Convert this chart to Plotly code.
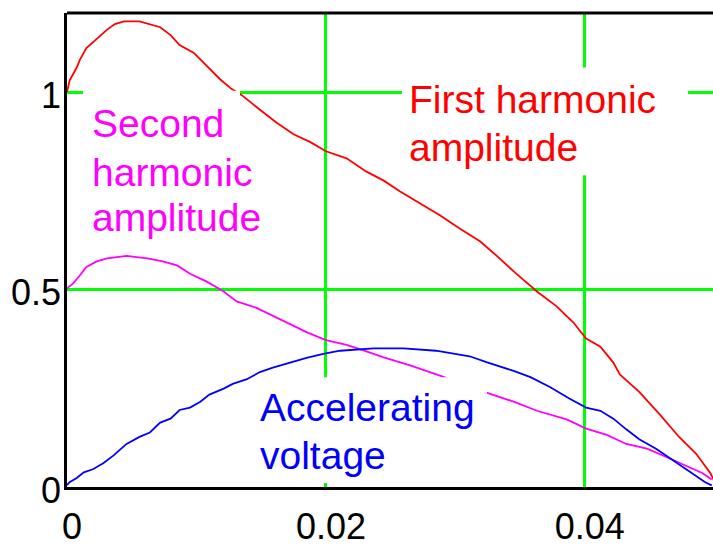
import plotly.graph_objects as go

# ---- data ----
first_x = [0, 0.0002, 0.00075, 0.001, 0.0015, 0.0023, 0.0031, 0.0037, 0.0044, 0.0056, 0.0064,
           0.0072, 0.008, 0.0087, 0.0098, 0.0108, 0.0118, 0.0127, 0.0135, 0.0149, 0.0162, 0.0175,
           0.0188, 0.02, 0.0216, 0.0231, 0.0245, 0.0257, 0.0273, 0.0288, 0.0303, 0.0319, 0.0332,
           0.0347, 0.0363, 0.0378, 0.0391, 0.0401, 0.0412, 0.0422, 0.0427, 0.0442, 0.0458, 0.0473,
           0.0486, 0.0497, 0.05]
first_y = [1.0, 1.029, 1.062, 1.082, 1.111, 1.135, 1.158, 1.172, 1.179, 1.179, 1.172,
           1.164, 1.144, 1.119, 1.099, 1.066, 1.033, 1.008, 0.992, 0.955, 0.922, 0.893,
           0.873, 0.850, 0.832, 0.799, 0.775, 0.749, 0.717, 0.688, 0.655, 0.622, 0.585,
           0.540, 0.495, 0.458, 0.417, 0.376, 0.355, 0.315, 0.285, 0.241, 0.183, 0.126,
           0.084, 0.035, 0.015]

second_x = [0, 0.0005, 0.001, 0.0015, 0.0023, 0.0031, 0.0046, 0.0062, 0.0074, 0.0085, 0.0095,
            0.0108, 0.0121, 0.0131, 0.0146, 0.0185, 0.02, 0.0216, 0.0229, 0.0244, 0.0265, 0.028,
            0.0287, 0.0324, 0.0345, 0.0363, 0.0386, 0.0401, 0.0417, 0.0432, 0.0448, 0.0463,
            0.0479, 0.0491, 0.0498]
second_y = [0.503, 0.516, 0.536, 0.557, 0.571, 0.579, 0.585, 0.579, 0.571, 0.561, 0.540,
            0.520, 0.495, 0.470, 0.454, 0.392, 0.372, 0.360, 0.346, 0.329, 0.308, 0.291,
            0.283, 0.239, 0.216, 0.193, 0.171, 0.148, 0.132, 0.109, 0.097, 0.076,
            0.052, 0.035, 0.019]

accel_x = [0, 0.0002, 0.00075, 0.0013, 0.002, 0.0028, 0.0036, 0.0046, 0.0056, 0.0064, 0.0072,
           0.008, 0.0087, 0.0095, 0.0103, 0.011, 0.0121, 0.0128, 0.0139, 0.0149, 0.0159, 0.0172,
           0.0185, 0.0198, 0.0211, 0.0237, 0.026, 0.0285, 0.0301, 0.0311, 0.0324, 0.0345,
           0.0358, 0.0373, 0.0388, 0.0401, 0.0412, 0.0422, 0.0432, 0.0442, 0.0455, 0.0468,
           0.0481, 0.0493, 0.0498]
accel_y = [0.005, 0.012, 0.023, 0.037, 0.045, 0.060, 0.080, 0.109, 0.127, 0.138, 0.163,
           0.173, 0.195, 0.201, 0.216, 0.234, 0.249, 0.261, 0.273, 0.291, 0.302, 0.314,
           0.327, 0.337, 0.345, 0.351, 0.351, 0.345, 0.337, 0.331, 0.316, 0.294,
           0.278, 0.253, 0.224, 0.201, 0.193, 0.173, 0.146, 0.121, 0.097, 0.068,
           0.039, 0.012, 0.004]

x_ticks = [0, 0.02, 0.04]
x_tick_labels = ["0", "0.02", "0.04"]
y_ticks = [0, 0.5, 1]
y_tick_labels = ["0", "0.5", "1"]

# ---- layout geometry ----
W, H = 713, 547
ML, MR, MT, MB = 67, 0, 13, 46
PW, PH = W - ML - MR, H - MT - MB
FONT = "Liberation Sans, Arial, sans-serif"
LABEL_SIZE = 39
TICK_SIZE = 36


def px(x):
    return (x - ML) / PW


def py(y):
    return (H - MB - y) / PH


fig = go.Figure()
fig.add_trace(go.Scatter(x=first_x, y=first_y, mode="lines",
                         line=dict(color="#FF0000", width=1.8), name="First harmonic amplitude"))
fig.add_trace(go.Scatter(x=second_x, y=second_y, mode="lines",
                         line=dict(color="#FF00FF", width=1.8), name="Second harmonic amplitude"))
fig.add_trace(go.Scatter(x=accel_x, y=accel_y, mode="lines",
                         line=dict(color="#0000FF", width=1.8), name="Accelerating voltage"))

shapes = []
# white text-region backgrounds (hide grid/curves behind labels)
for (x0, y0, x1, y1) in [(402, 69, 688, 180), (83, 93, 240, 252), (254, 388, 487, 497)]:
    shapes.append(dict(type="rect", xref="paper", yref="paper",
                       x0=px(x0), x1=px(x1), y0=py(y1), y1=py(y0),
                       fillcolor="white", line=dict(width=0), layer="above"))
# top frame line
shapes.append(dict(type="line", xref="paper", yref="paper", x0=0, x1=1, y0=1, y1=1,
                   line=dict(color="black", width=3)))

ann = []
labels = [
    ("First harmonic", 408, 115, "#FF0000"),
    ("amplitude", 408, 164, "#FF0000"),
    ("Second", 91, 140, "#FF00FF"),
    ("harmonic", 91, 190, "#FF00FF"),
    ("amplitude", 91, 237, "#FF00FF"),
    ("Accelerating", 259, 432, "#0000FF"),
    ("voltage", 259, 482, "#0000FF"),
]
for text, lx, base, col in labels:
    ann.append(dict(text=text, xref="paper", yref="paper", x=px(lx), y=py(base - 13),
                    xanchor="left", yanchor="middle", showarrow=False,
                    font=dict(family=FONT, size=LABEL_SIZE, color=col), borderpad=0))

# y tick labels placed next to the axis
for val, txt in zip(y_ticks, y_tick_labels):
    ann.append(dict(text=txt, xref="paper", yref="y", x=0, y=val,
                    xanchor="right", yanchor="middle", xshift=-5, yshift=-3,
                    showarrow=False, borderpad=0,
                    font=dict(family=FONT, size=TICK_SIZE, color="black")))

fig.update_layout(
    width=W, height=H, autosize=False,
    margin=dict(l=ML, r=MR, t=MT, b=MB, pad=0),
    paper_bgcolor="white", plot_bgcolor="white",
    showlegend=False,
    shapes=shapes, annotations=ann,
    font=dict(family=FONT, size=TICK_SIZE, color="black"),
)
fig.update_xaxes(range=[0, 0.0499], tickvals=x_ticks, ticktext=x_tick_labels,
                 showgrid=True, gridcolor="#00FF00", gridwidth=3,
                 showline=True, linecolor="black", linewidth=3, mirror=False,
                 zeroline=False, ticks="", ticklen=0, ticklabelstandoff=6,
                 ticklabelshift=5,
                 tickfont=dict(family=FONT, size=TICK_SIZE, color="black"))
fig.update_yaxes(range=[0, 1.2], tickvals=y_ticks, ticktext=y_tick_labels,
                 showgrid=True, gridcolor="#00FF00", gridwidth=3,
                 showline=True, linecolor="black", linewidth=3, mirror=False,
                 zeroline=False, ticks="", ticklen=0, showticklabels=False)

fig.write_html("out.html")
